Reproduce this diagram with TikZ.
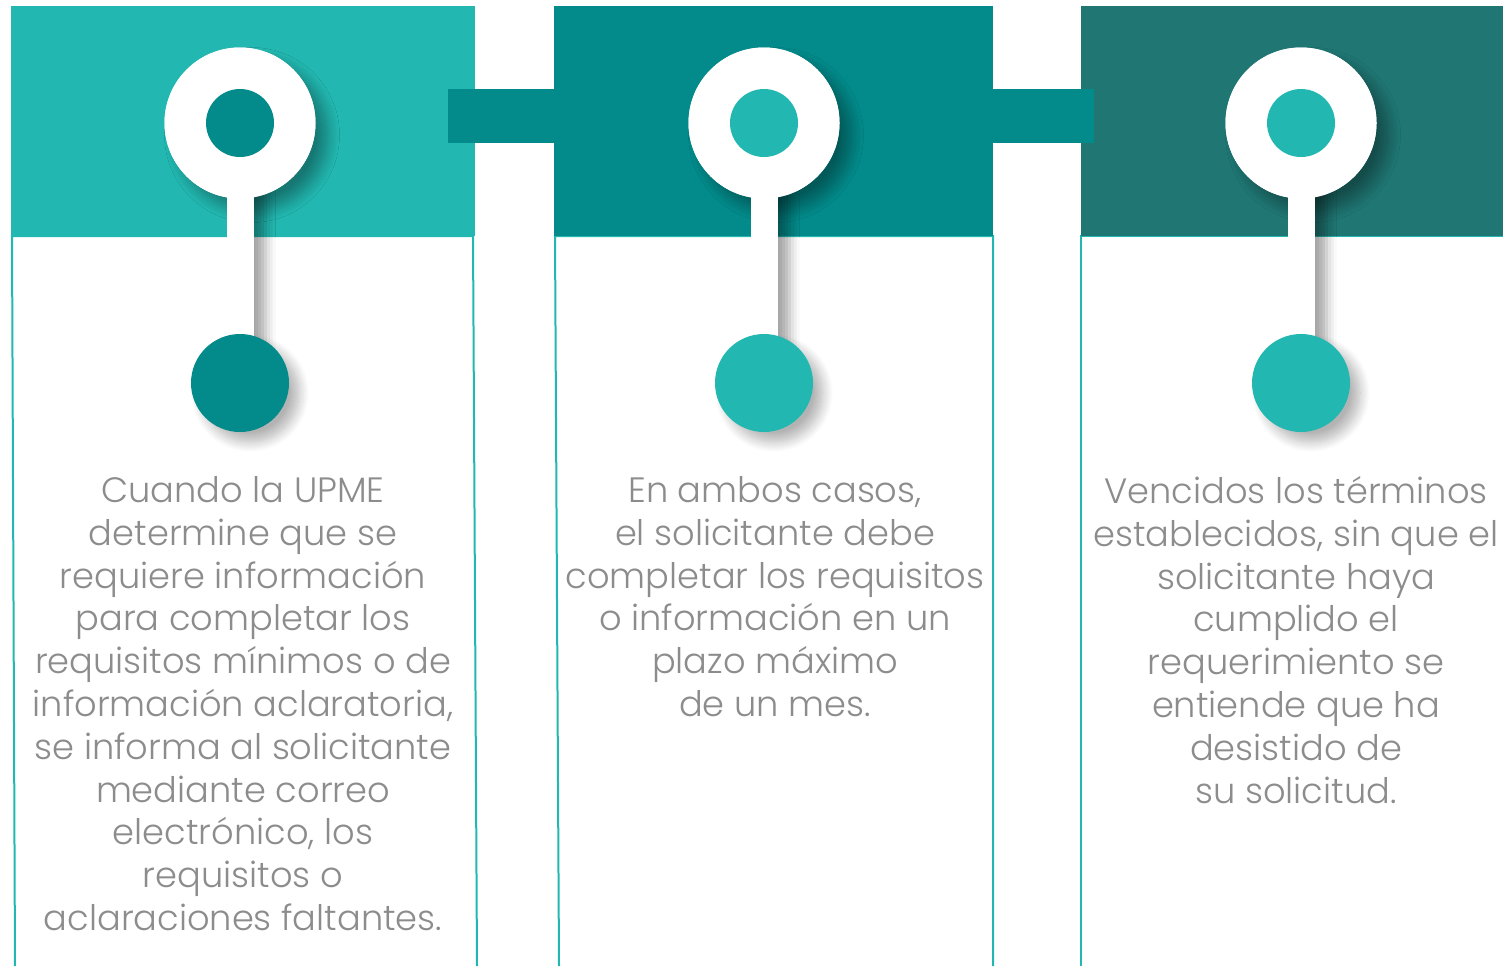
\documentclass[tikz,border=0pt]{standalone}
\usepackage{fontspec}
\setmainfont{Poppins Light}
\usepackage{tikz}
\usetikzlibrary{positioning, shadows.blur}

\definecolor{lightteal}{HTML}{22B8B1}
\definecolor{midteal}{HTML}{038A8A}
\definecolor{deepteal}{HTML}{1F7673}
\definecolor{txtgray}{HTML}{8C8C8C}

\tikzset{
  frame/.style={draw=lightteal, line width=1pt},
  ringbase/.style={circle, fill=white, inner sep=0pt, minimum size=75.5pt},
  ring/.style={ringbase,
    blur shadow={shadow xshift=6pt, shadow yshift=-6pt, shadow blur radius=6pt, shadow blur steps=12, shadow opacity=35}},
  hole/.style={circle, inner sep=0pt, minimum size=34pt},
  dot/.style={circle, inner sep=0pt, minimum size=49pt,
    blur shadow={shadow xshift=5pt, shadow yshift=-5pt, shadow blur radius=5pt, shadow blur steps=12, shadow opacity=30}},
  stemshade/.style={fill=white,
    blur shadow={shadow xshift=6pt, shadow yshift=0pt, shadow blur radius=5pt, shadow opacity=35}},
  label/.style={anchor=north, inner sep=0pt, align=center, text=txtgray,
    font=\fontsize{17.6}{21.4}\selectfont}
}

\begin{document}
\begin{tikzpicture}[x=0.5pt,y=-0.5pt]
\useasboundingbox (0,0) rectangle (1503,966);
% white boxes
\draw[frame] (15,966) -- (12,236) -- (473,236) -- (477,966);
\draw[frame] (559,966) -- (555,236) -- (993,236) -- (993,966);
\draw[frame] (1081,966) -- (1081,236) -- (1503,236);
% coloured heads
\fill[lightteal] (11,6) rectangle (475,236);
\fill[midteal] (554,6) rectangle (993,236);
\fill[deepteal] (1081,6) rectangle (1503,236);
% links
\fill[midteal] (448,89) rectangle (554,143);
\fill[midteal] (993,89) rectangle (1094,143);

% step 1
\node[ring] (r1) at (240,123) {};
\coordinate (p1) at (240,383);
\fill[stemshade] ([xshift=-6.75pt]r1.center) rectangle ([xshift=6.75pt]p1);
\node[ringbase] at (r1) {};
\node[hole, fill=midteal] (h1) at (r1) {};
\node[dot, fill=midteal] (d1) at (p1) {};
\node[label] (t1) at (243,476) {Cuando la UPME\\ determine que se\\ requiere información\\ para completar los\\ requisitos mínimos o de\\ información aclaratoria,\\ se informa al solicitante\\ mediante correo\\ electrónico, los\\ requisitos o\\ aclaraciones faltantes.};

% step 2
\node[ring] (r2) at (764,123) {};
\coordinate (p2) at (764,383);
\fill[stemshade] ([xshift=-6.75pt]r2.center) rectangle ([xshift=6.75pt]p2);
\node[ringbase] at (r2) {};
\node[hole, fill=lightteal] (h2) at (r2) {};
\node[dot, fill=lightteal] (d2) at (p2) {};
\node[label] (t2) at (775,476) {En ambos casos,\\ el solicitante debe\\ completar los requisitos\\ o información en un\\ plazo máximo\\ de un mes.};

% step 3
\node[ring] (r3) at (1301,123) {};
\coordinate (p3) at (1301,383);
\fill[stemshade] ([xshift=-6.75pt]r3.center) rectangle ([xshift=6.75pt]p3);
\node[ringbase] at (r3) {};
\node[hole, fill=lightteal] (h3) at (r3) {};
\node[dot, fill=lightteal] (d3) at (p3) {};
\node[label] (t3) at (1296,476) {Vencidos los términos\\ establecidos, sin que el\\ solicitante haya\\ cumplido el\\ requerimiento se\\ entiende que ha\\ desistido de\\ su solicitud.};
\end{tikzpicture}
\end{document}
